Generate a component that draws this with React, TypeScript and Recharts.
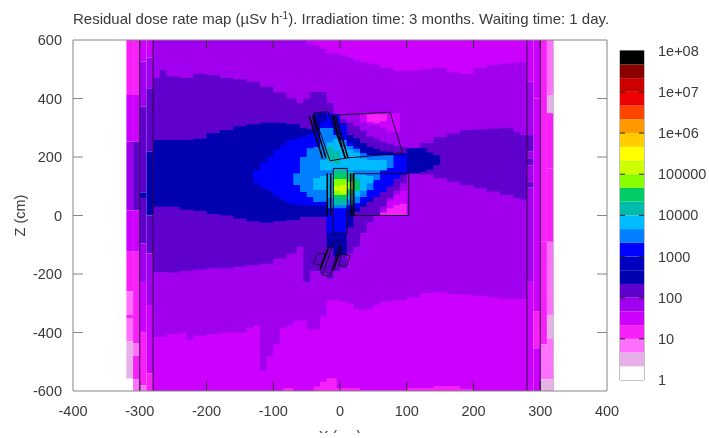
import React from "react";
import { ComposedChart, BarChart, Area, Bar, XAxis, YAxis, ReferenceLine, ReferenceArea } from "recharts";

const FONT = "'Liberation Sans', Arial, sans-serif";
const TEXT = "#3a3a3a";
const FRAME = "#858585";

// colour of every band of the scale, bottom (1) to top (1e+08)
const bandColors = ["#ffffff", "#e8b0e8", "#ff70ff", "#f820f8", "#cc00ff", "#a000ee", "#6000cc", "#0000b0", "#0000c0", "#0000ff", "#0080ff", "#00bbff", "#00bbaa", "#00cc66", "#88ff00", "#ccff00", "#ffff00", "#ffcc00", "#ff9900", "#ff4400", "#ee0000", "#cc0000", "#880000", "#000000"];
const scaleLabels = ["1", "10", "100", "1000", "10000", "100000", "1e+06", "1e+07", "1e+08"];
const scaleTicks = [0, 3, 6, 9, 12, 15, 18, 21, 24];
const xTicks = [-400, -300, -200, -100, 0, 100, 200, 300, 400];
const zTicks = [-600, -400, -200, 0, 200, 400, 600];

// [x, lower z, upper z]: holds until next entry; a single value closes the region
type Row = number[];
const base: Row[] = [[-280, -600, 600], [280]];
const bottomPink: Row[] = [[-85, -600, -590], [-70, -600, -600], [-40, -600, -585], [-30, -600, -568], [-20, -600, -556], [-5, -600, -590], [30, -600, -597], [100, -600, -590], [140, -600, -583], [180, -600, -592], [200]];
const purple: Row[] = [[-280, -415, 600], [-260, -405, 600], [-240, -400, 600], [-230, -425, 600], [-220, -410, 600], [-200, -405, 600], [-180, -400, 600], [-140, -385, 600], [-130, -375, 600], [-120, -530, 600], [-110, -480, 600], [-100, -440, 600], [-90, -385, 600], [-80, -375, 600], [-70, -360, 600], [-60, -360, 600], [-50, -390, 590], [-40, -390, 580], [-30, -345, 570], [-20, -290, 555], [0, -295, 548], [10, -300, 540], [20, -320, 530], [30, -325, 525], [40, -320, 520], [50, -305, 515], [60, -295, 505], [80, -290, 495], [100, -280, 495], [120, -265, 500], [140, -262, 505], [160, -268, 490], [180, -270, 485], [200, -275, 505], [220, -280, 515], [240, -285, 520], [260, -285, 525], [280]];
const indigo: Row[] = [[-280, -193, 470], [-270, -193, 497], [-260, -195, 475], [-240, -190, 470], [-220, -185, 485], [-200, -180, 480], [-180, -180, 470], [-160, -175, 465], [-140, -170, 457], [-120, -165, 440], [-100, -147, 420], [-80, -130, 400], [-65, -107, 384], [-55, -227, 400], [-45, -190, 422], [-30, -200, 422], [-20, -215, 385], [-10, -190, 345], [0, -180, 330], [10, -130, 318], [20, -107, 305], [30, -60, 290], [40, -25, 270], [50, 0, 262], [60, 30, 252], [70, 60, 245], [80, 85, 238], [90, 110, 234], [100, 144, 232], [120, 140, 248], [140, 127, 268], [160, 115, 280], [180, 103, 292], [200, 93, 295], [220, 82, 297], [240, 70, 298], [260, 60, 285], [270, 55, 275], [280]];
const upperBoxViolet: Row[] = [[30, 320, 345], [40, 310, 350], [60, 300, 350], [70, 285, 350], [90]];
const upperBoxPink: Row[] = [[40, 320, 345], [50, 315, 350], [60, 322, 345], [70]];
const lowerBoxViolet: Row[] = [[70, 0, 50], [80, 0, 70], [90, 0, 85], [100]];
const lowerBoxPink: Row[] = [[60, 0, 10], [70, 0, 25], [80, 0, 35], [90, 0, 40], [100]];
const navy: Row[] = [[-280, 30, 258], [-240, 20, 258], [-220, 15, 262], [-200, 5, 282], [-180, 0, 292], [-160, -10, 305], [-140, -20, 312], [-120, -25, 317], [-100, -20, 317], [-80, -15, 312], [-60, -5, 298], [-50, -4, 295], [-40, -5, 350], [-30, -5, 352], [-20, -110, 340], [-10, -140, 325], [0, -135, 315], [10, -40, 275], [20, 13, 264], [30, 30, 248], [40, 47, 235], [50, 65, 228], [60, 93, 220], [70, 110, 218], [80, 125, 213], [90, 140, 213], [100, 144, 230], [120, 150, 230], [130, 157, 215], [140, 172, 206], [150]];
const blue: Row[] = [[-130, 110, 155], [-120, 95, 180], [-110, 85, 200], [-100, 65, 225], [-90, 52, 241], [-80, 42, 258], [-70, 38, 262], [-60, 35, 268], [-50, 35, 278], [-40, 35, 290], [-30, 35, 320], [-20, -60, 350], [-10, -61, 345], [0, -61, 310], [10, 20, 250], [20, 25, 234], [30, 40, 215], [40, 55, 208], [50, 65, 205], [60, 80, 204], [70, 100, 204], [80, 125, 204], [90, 140, 204], [100]];
const azure: Row[] = [[-70, 104, 144], [-60, 80, 200], [-50, 63, 230], [-40, 46, 234], [-30, 47, 299], [-20, 25, 299], [-10, 25, 275], [0, 25, 258], [10, 35, 238], [20, 42, 228], [30, 63, 213], [40, 87, 206], [50, 121, 206], [60, 155, 206], [70, 162, 206], [80]];
const cyanBand: Row[] = [[-30, 155, 190], [-20, 155, 250], [-10, 155, 262], [0, 155, 235], [10, 155, 225], [20, 155, 215], [30, 155, 195], [40, 155, 190], [70]];
const cyanLobe: Row[] = [[-40, 87, 128], [-30, 87, 135], [-20, 60, 140], [-10, 40, 155], [10, 55, 150], [20, 65, 145], [30, 85, 140], [40, 110, 135], [50]];
const tealBeam: Row[] = [[-20, 185, 235], [-10, 175, 220], [0]];
const tealCore: Row[] = [[-10, 35, 158], [10, 65, 150], [20, 90, 130], [30]];
const greenCore: Row[] = [[-10, 60, 145], [0, 55, 145], [10, 75, 130], [20, 85, 115], [30]];
const limeCore: Row[] = [[-10, 70, 125], [10, 90, 115], [20]];
const yellowCore: Row[] = [[-10, 85, 100], [0, 75, 105], [10]];

// [x from, x to, z from, z to, band]: the wall columns
const wallCells: number[][] = [
  [-320, -310, 412, 600, 3], [-320, -310, 252, 412, 4], [-320, -310, 18, 252, 5], [-320, -310, -124, 18, 4], [-320, -310, -259, -124, 3], [-320, -310, -340, -259, 2], [-320, -310, -350, -340, 3], [-320, -310, -430, -350, 2], [-320, -310, -557, -430, 1],
  [-310, -300, 412, 600, 3], [-310, -300, 252, 412, 4], [-310, -300, 18, 252, 6], [-310, -300, -124, 18, 4], [-310, -300, -436, -124, 3], [-310, -300, -480, -436, 2], [-310, -300, -560, -480, 3], [-310, -300, -600, -560, 2],
  [-300, -290, 526, 600, 4], [-300, -290, 372, 526, 5], [-300, -290, 79, 372, 6], [-300, -290, 60, 79, 7], [-300, -290, -96, 60, 6], [-300, -290, -227, -96, 5], [-300, -290, -398, -227, 4], [-300, -290, -580, -398, 3], [-300, -290, -600, -580, 2],
  [-290, -280, 540, 600, 4], [-290, -280, 435, 540, 5], [-290, -280, 218, 435, 6], [-290, -280, 0, 218, 7], [-290, -280, -130, 0, 6], [-290, -280, -306, -130, 5], [-290, -280, -540, -306, 4], [-290, -280, -600, -540, 3],
  [280, 290, 457, 600, 4], [280, 290, 275, 457, 5], [280, 290, 218, 275, 6], [280, 290, 196, 218, 5], [280, 290, 172, 196, 6], [280, 290, 115, 172, 5], [280, 290, 95, 115, 6], [280, 290, -227, 95, 5], [280, 290, -600, -227, 4],
  [290, 300, 400, 600, 4], [290, 300, -327, 400, 4], [290, 300, -454, -327, 3], [290, 300, -600, -454, 4],
  [300, 310, -90, 600, 3], [300, 310, -330, -90, 3], [300, 310, -440, -330, 3], [300, 310, -560, -440, 2], [300, 310, -600, -560, 1],
  [310, 320, 410, 600, 2], [310, 320, 350, 410, 1], [310, 320, 160, 350, 3], [310, 320, -90, 160, 3], [310, 320, -340, -90, 2], [310, 320, -420, -340, 1], [310, 320, -560, -420, 2], [310, 320, -600, -560, 1],
];

// outlines of the machine parts in map coordinates
const outlines: number[][][] = [
  [[-10, 343], [75, 353], [94, 214], [8, 196]],
  [[21, 0], [103, 0], [103, 143], [21, 143]],
  [[-10, 161], [11, 161], [11, -61], [-10, -61]],
  [[-40, 351], [-18, 355], [8, 196], [-15, 187]],
  [[-10, -90], [1, -90], [-15, -207], [-26, -204]],
  [[-34, -130], [-22, -130], [-29, -170], [-40, -164]],
  [[2, -130], [15, -138], [10, -172], [-2, -170]],
];
const heavyBars: number[][][] = [
  [[-19, 144], [-19, -1]], [[-14, 144], [-14, -1]], [[16, 144], [16, -1]], [[20, 144], [20, -1]],
  [[-46, 340], [-26, 195]], [[-41, 342], [-21, 197]], [[-12, 343], [8, 195]], [[-7, 342], [12, 197]],
  [[-17, -107], [-30, -187]], [[2, -107], [-10, -187]],
];
const wallLines = [-300, -280, 280, 300];

const layers: { key: string; band: number; rows: Row[] }[] = [
  { key: "base", band: 4, rows: base },
  { key: "bottomPink", band: 3, rows: bottomPink },
  { key: "purple", band: 5, rows: purple },
  { key: "upperBoxViolet", band: 4, rows: upperBoxViolet },
  { key: "upperBoxPink", band: 3, rows: upperBoxPink },
  { key: "lowerBoxViolet", band: 4, rows: lowerBoxViolet },
  { key: "indigo", band: 6, rows: indigo },
  { key: "lowerBoxPink", band: 3, rows: lowerBoxPink },
  { key: "navy", band: 7, rows: navy },
  { key: "blue", band: 9, rows: blue },
  { key: "azure", band: 10, rows: azure },
  { key: "cyanBand", band: 11, rows: cyanBand },
  { key: "cyanLobe", band: 11, rows: cyanLobe },
  { key: "tealBeam", band: 12, rows: tealBeam },
  { key: "tealCore", band: 12, rows: tealCore },
  { key: "greenCore", band: 13, rows: greenCore },
  { key: "limeCore", band: 14, rows: limeCore },
  { key: "yellowCore", band: 15, rows: yellowCore },
];

const columnEdges: number[] = Array.from(new Set(layers.flatMap((l) => l.rows.map((r) => r[0])).concat(xTicks))).sort((a, b) => a - b);
const lookup = (rows: Row[], x: number) => {
  const end = rows[rows.length - 1][0];
  if (x < rows[0][0] || x > end) return null;
  let cur: Row = rows[0];
  for (const r of rows) if (r[0] <= x && r.length === 3) cur = r;
  return [cur[1], cur[2]];
};
const table = columnEdges.map((x) => {
  const row: Record<string, any> = { x };
  layers.forEach((l) => (row[l.key] = lookup(l.rows, x)));
  return row;
});
const scaleRow: Record<string, any> = { name: "scale" };
bandColors.forEach((_, i) => (scaleRow["b" + i] = 1));

const textStyle = { fontFamily: FONT, fontSize: 14.5, fill: TEXT };
const XTick = ({ x, y, payload }: any) => (
  <text x={x} y={y + 19} textAnchor="middle" {...textStyle}>{payload.value}</text>
);
const ZTick = ({ x, y, payload }: any) => (
  <text x={x - 3} y={y + 5} textAnchor="end" {...textStyle}>{payload.value}</text>
);
const ScaleTick = ({ x, y, index }: any) => (
  <text x={x + 6} y={y + 5} textAnchor="start" {...textStyle}>{scaleLabels[index]}</text>
);
const seg = (a: number[], b: number[]) => [{ x: a[0], y: a[1] }, { x: b[0], y: b[1] }] as any;

export default function App() {
  return (
    <div style={{ position: "fixed", left: 0, top: 0, width: 709, height: 433, overflow: "hidden", background: "#fff", filter: "blur(0.6px)" }}>
      <div style={{ position: "absolute", left: 73, top: 10, fontFamily: FONT, fontSize: 15, color: TEXT, whiteSpace: "nowrap" }}>
        Residual dose rate map (µSv h<span style={{ fontSize: 10, position: "relative", top: -5 }}>-1</span>). Irradiation time: 3 months. Waiting time: 1 day.
      </div>
      <div style={{ position: "absolute", left: 0, top: 0 }}>
        <ComposedChart width={709} height={438} data={table} margin={{ top: 40, right: 102, bottom: 0, left: 0 }}>
          <XAxis dataKey="x" type="number" domain={[-400, 400]} ticks={xTicks} interval={0} height={47} axisLine={false} tickLine={false} tick={<XTick />} tickMargin={0}
            label={{ value: "X (cm)", position: "insideBottom", offset: -3, style: textStyle }} />
          <YAxis type="number" domain={[-600, 600]} ticks={zTicks} interval={0} width={73} axisLine={false} tickLine={false} tick={<ZTick />}
            label={{ value: "Z (cm)", angle: -90, position: "insideLeft", offset: 20, style: { ...textStyle, textAnchor: "middle" } }} />
          {layers.map((l) => (
            <Area key={l.key} dataKey={l.key} type="stepAfter" fill={bandColors[l.band]} fillOpacity={1} stroke="none" isAnimationActive={false} dot={false} activeDot={false} connectNulls={false} />
          ))}
          {wallCells.map((c, i) => (
            <ReferenceArea key={"w" + i} x1={c[0]} x2={c[1]} y1={c[2]} y2={c[3]} fill={bandColors[c[4]]} fillOpacity={1} stroke="none" />
          ))}
          {wallLines.map((x) => (
            <ReferenceLine key={"l" + x} x={x} stroke="#2a0a40" strokeWidth={1} />
          ))}
          <ReferenceLine x={320} stroke="#c0c0c0" strokeWidth={1} />
          {outlines.flatMap((o, i) => o.map((p, j) => (
            <ReferenceLine key={`o${i}-${j}`} segment={seg(p, o[(j + 1) % o.length])} stroke="#1a0030" strokeWidth={1} />
          )))}
          {heavyBars.map((b, i) => (
            <ReferenceLine key={"b" + i} segment={seg(b[0], b[1])} stroke="#000" strokeWidth={1.6} />
          ))}
          {xTicks.slice(1, -1).map((x) => (
            <ReferenceLine key={"xb" + x} segment={seg([x, -600], [x, -568])} stroke="#333" />
          ))}
          {xTicks.slice(1, -1).map((x) => (
            <ReferenceLine key={"xt" + x} segment={seg([x, 600], [x, 572])} stroke="#333" />
          ))}
          {zTicks.slice(1, -1).map((z) => (
            <ReferenceLine key={"zl" + z} segment={seg([-400, z], [-385, z])} stroke={FRAME} />
          ))}
          {zTicks.slice(1, -1).map((z) => (
            <ReferenceLine key={"zr" + z} segment={seg([400, z], [385, z])} stroke={FRAME} />
          ))}
          <ReferenceLine x={-400} stroke={FRAME} />
          <ReferenceLine x={400} stroke={FRAME} />
          <ReferenceLine y={-600} stroke={FRAME} />
          <ReferenceLine y={600} stroke={FRAME} />
        </ComposedChart>
      </div>
      <div style={{ position: "absolute", left: 600, top: 0 }}>
        <BarChart width={109} height={438} data={[scaleRow]} margin={{ top: 50.7, right: 0, bottom: 58, left: 20 }} barCategoryGap={0}>
          <XAxis dataKey="name" hide />
          <YAxis orientation="right" type="number" domain={[0, 24]} ticks={scaleTicks} interval={0} width={65} axisLine={false} tickLine={false} tick={<ScaleTick />} />
          {bandColors.map((c, i) => (
            <Bar key={i} dataKey={"b" + i} stackId="s" fill={c} isAnimationActive={false} />
          ))}
          {scaleTicks.slice(1, -1).map((t) => (
            <ReferenceLine key={"sr" + t} y={t} stroke="#222" strokeDasharray="5 14 5 0" />
          ))}
          <ReferenceArea y1={0} y2={24} fill="none" stroke={FRAME} />
        </BarChart>
      </div>
    </div>
  );
}
